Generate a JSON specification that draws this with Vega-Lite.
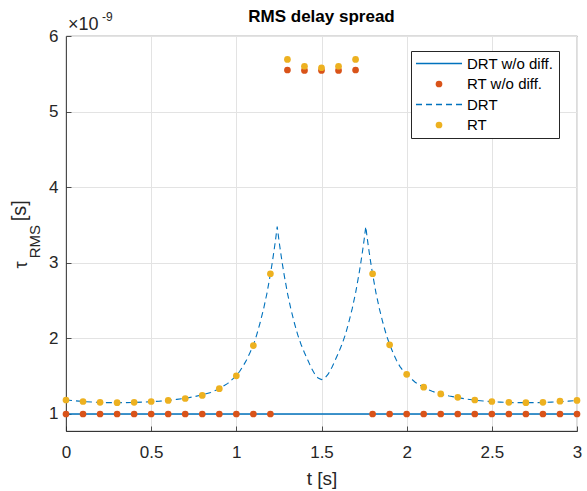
{
  "$schema": "https://vega.github.io/schema/vega-lite/v6.json",
  "width": 511,
  "height": 395,
  "autosize": {"type": "none"},
  "padding": {"left": 66, "top": 36, "right": 10, "bottom": 60},
  "background": "white",
  "title": {"text": "RMS delay spread", "fontSize": 17, "fontWeight": "bold", "font": "Liberation Sans", "color": "black", "offset": -15, "anchor": "middle"},
  "config": {
    "view": {"stroke": "#262626", "strokeWidth": 0.8},
    "axis": {"labelFont": "Liberation Sans", "titleFont": "Liberation Sans", "labelFontSize": 17, "labelColor": "#262626", "titleColor": "#262626", "titleFontWeight": "normal", "titleFontSize": 19, "gridColor": "#e3e3e3", "gridWidth": 1, "domainColor": "#262626", "domainWidth": 0.8, "tickColor": "#262626", "tickSize": -5, "tickWidth": 0.8},
    "legend": {"labelFont": "Liberation Sans"}
  },
  "datasets": {
    "drtw": [
      {"t": 0, "v": 1.0, "series": "DRT w/o diff."},
      {"t": 3, "v": 1.0, "series": "DRT w/o diff."}
    ],
    "rtw": [
      {"t": 0.0, "v": 1.0}, {"t": 0.1, "v": 1.0}, {"t": 0.2, "v": 1.0}, {"t": 0.3, "v": 1.0}, {"t": 0.4, "v": 1.0},
      {"t": 0.5, "v": 1.0}, {"t": 0.6, "v": 1.0}, {"t": 0.7, "v": 1.0}, {"t": 0.8, "v": 1.0}, {"t": 0.9, "v": 1.0},
      {"t": 1.0, "v": 1.0}, {"t": 1.1, "v": 1.0}, {"t": 1.2, "v": 1.0},
      {"t": 1.3, "v": 5.55}, {"t": 1.4, "v": 5.545}, {"t": 1.5, "v": 5.545}, {"t": 1.6, "v": 5.545}, {"t": 1.7, "v": 5.55},
      {"t": 1.8, "v": 1.0}, {"t": 1.9, "v": 1.0}, {"t": 2.0, "v": 1.0}, {"t": 2.1, "v": 1.0}, {"t": 2.2, "v": 1.0},
      {"t": 2.3, "v": 1.0}, {"t": 2.4, "v": 1.0}, {"t": 2.5, "v": 1.0}, {"t": 2.6, "v": 1.0}, {"t": 2.7, "v": 1.0},
      {"t": 2.8, "v": 1.0}, {"t": 2.9, "v": 1.0}, {"t": 3.0, "v": 1.0}
    ],
    "drt": [
      {"t": 0, "v": 1.185}, {"t": 0.05, "v": 1.175}, {"t": 0.1, "v": 1.165}, {"t": 0.15, "v": 1.158}, {"t": 0.2, "v": 1.153},
      {"t": 0.25, "v": 1.15}, {"t": 0.3, "v": 1.15}, {"t": 0.35, "v": 1.15}, {"t": 0.4, "v": 1.152}, {"t": 0.45, "v": 1.157},
      {"t": 0.5, "v": 1.163}, {"t": 0.55, "v": 1.17}, {"t": 0.6, "v": 1.18}, {"t": 0.65, "v": 1.193}, {"t": 0.7, "v": 1.208},
      {"t": 0.75, "v": 1.228}, {"t": 0.8, "v": 1.253}, {"t": 0.85, "v": 1.285}, {"t": 0.9, "v": 1.335}, {"t": 0.95, "v": 1.405},
      {"t": 1.0, "v": 1.505}, {"t": 1.02, "v": 1.565}, {"t": 1.04, "v": 1.635}, {"t": 1.06, "v": 1.715}, {"t": 1.08, "v": 1.81},
      {"t": 1.1, "v": 1.91}, {"t": 1.12, "v": 2.05}, {"t": 1.14, "v": 2.21}, {"t": 1.16, "v": 2.39}, {"t": 1.18, "v": 2.6},
      {"t": 1.2, "v": 2.85}, {"t": 1.21, "v": 2.99}, {"t": 1.22, "v": 3.14}, {"t": 1.23, "v": 3.3}, {"t": 1.24, "v": 3.48},
      {"t": 1.25, "v": 3.3}, {"t": 1.26, "v": 3.14}, {"t": 1.27, "v": 2.99}, {"t": 1.28, "v": 2.85}, {"t": 1.3, "v": 2.6},
      {"t": 1.32, "v": 2.39}, {"t": 1.34, "v": 2.21}, {"t": 1.36, "v": 2.05}, {"t": 1.38, "v": 1.92}, {"t": 1.4, "v": 1.81},
      {"t": 1.42, "v": 1.71}, {"t": 1.44, "v": 1.61}, {"t": 1.46, "v": 1.53}, {"t": 1.48, "v": 1.475}, {"t": 1.5, "v": 1.455},
      {"t": 1.52, "v": 1.475}, {"t": 1.54, "v": 1.53}, {"t": 1.56, "v": 1.61}, {"t": 1.58, "v": 1.71}, {"t": 1.6, "v": 1.81},
      {"t": 1.62, "v": 1.92}, {"t": 1.64, "v": 2.05}, {"t": 1.66, "v": 2.21}, {"t": 1.68, "v": 2.39}, {"t": 1.7, "v": 2.6},
      {"t": 1.72, "v": 2.85}, {"t": 1.73, "v": 2.99}, {"t": 1.74, "v": 3.14}, {"t": 1.75, "v": 3.3}, {"t": 1.76, "v": 3.48},
      {"t": 1.77, "v": 3.3}, {"t": 1.78, "v": 3.14}, {"t": 1.79, "v": 2.99}, {"t": 1.8, "v": 2.85}, {"t": 1.82, "v": 2.6},
      {"t": 1.84, "v": 2.39}, {"t": 1.86, "v": 2.21}, {"t": 1.88, "v": 2.05}, {"t": 1.9, "v": 1.92}, {"t": 1.92, "v": 1.81},
      {"t": 1.94, "v": 1.71}, {"t": 1.96, "v": 1.63}, {"t": 1.98, "v": 1.57}, {"t": 2.0, "v": 1.52}, {"t": 2.05, "v": 1.42},
      {"t": 2.1, "v": 1.35}, {"t": 2.15, "v": 1.3}, {"t": 2.2, "v": 1.262}, {"t": 2.25, "v": 1.237}, {"t": 2.3, "v": 1.217},
      {"t": 2.35, "v": 1.198}, {"t": 2.4, "v": 1.183}, {"t": 2.45, "v": 1.172}, {"t": 2.5, "v": 1.163}, {"t": 2.55, "v": 1.157},
      {"t": 2.6, "v": 1.152}, {"t": 2.65, "v": 1.15}, {"t": 2.7, "v": 1.15}, {"t": 2.75, "v": 1.15}, {"t": 2.8, "v": 1.152},
      {"t": 2.85, "v": 1.157}, {"t": 2.9, "v": 1.163}, {"t": 2.95, "v": 1.17}, {"t": 3.0, "v": 1.178}
    ],
    "rt": [
      {"t": 0.0, "v": 1.185}, {"t": 0.1, "v": 1.165}, {"t": 0.2, "v": 1.155}, {"t": 0.3, "v": 1.15}, {"t": 0.4, "v": 1.155},
      {"t": 0.5, "v": 1.165}, {"t": 0.6, "v": 1.18}, {"t": 0.7, "v": 1.205}, {"t": 0.8, "v": 1.245}, {"t": 0.9, "v": 1.335},
      {"t": 1.0, "v": 1.505}, {"t": 1.1, "v": 1.905}, {"t": 1.2, "v": 2.855},
      {"t": 1.3, "v": 5.69}, {"t": 1.4, "v": 5.6}, {"t": 1.5, "v": 5.58}, {"t": 1.6, "v": 5.6}, {"t": 1.7, "v": 5.69},
      {"t": 1.8, "v": 2.855}, {"t": 1.9, "v": 1.915}, {"t": 2.0, "v": 1.525}, {"t": 2.1, "v": 1.355}, {"t": 2.2, "v": 1.265},
      {"t": 2.3, "v": 1.22}, {"t": 2.4, "v": 1.185}, {"t": 2.5, "v": 1.165}, {"t": 2.6, "v": 1.155}, {"t": 2.7, "v": 1.15},
      {"t": 2.8, "v": 1.155}, {"t": 2.9, "v": 1.17}, {"t": 3.0, "v": 1.18}
    ]
  },
  "layer": [
    {
      "data": {"name": "drtw"},
      "mark": {"type": "line", "strokeWidth": 1.6, "clip": true},
      "encoding": {
        "x": {"field": "t", "type": "quantitative", "scale": {"domain": [0, 3], "nice": false, "zero": false},
          "axis": {"title": "t [s]", "values": [0, 0.5, 1, 1.5, 2, 2.5, 3], "format": "~g", "labelPadding": 18, "titlePadding": 9, "labelFlush": false}},
        "y": {"field": "v", "type": "quantitative", "scale": {"domain": [0.775, 6], "nice": false, "zero": false},
          "axis": {"title": null, "values": [1, 2, 3, 4, 5, 6], "format": "d", "labelPadding": 13, "labelFlush": false}},
        "color": {"field": "series", "type": "nominal",
        "scale": {"domain": ["DRT w/o diff.", "RT w/o diff.", "DRT", "RT"], "range": ["#0072BD", "#D95319", "#0072BD", "#EDB120"]},
        "legend": {"title": null, "orient": "none", "legendX": 345, "legendY": 15, "strokeColor": "#262626", "fillColor": "white", "padding": 5,
          "labelFontSize": 15, "labelColor": "black", "rowPadding": 4.5,
          "encode": {
            "symbols": {"update": {
              "x": {"value": 23},
              "shape": {"signal": "indexof(['DRT w/o diff.','DRT'], datum.value) >= 0 ? 'stroke' : 'circle'"},
              "size": {"signal": "indexof(['DRT w/o diff.','DRT'], datum.value) >= 0 ? 2116 : 45"},
              "strokeDash": {"signal": "datum.value === 'DRT' ? [6,4] : [1,0]"},
              "stroke": {"signal": "scale('color', datum.value)"},
              "fill": {"signal": "indexof(['DRT w/o diff.','DRT'], datum.value) >= 0 ? 'transparent' : scale('color', datum.value)"},
              "strokeWidth": {"signal": "indexof(['DRT w/o diff.','DRT'], datum.value) >= 0 ? 1.5 : 0"},
              "opacity": {"value": 1},
              "fillOpacity": {"value": 1},
              "strokeOpacity": {"value": 1}
            }},
            "labels": {"update": {"x": {"value": 51}}}
          }}}
      }
    },
    {
      "data": {"name": "rtw"},
      "transform": [{"calculate": "'RT w/o diff.'", "as": "series"}],
      "mark": {"type": "circle", "size": 45, "opacity": 1},
      "encoding": {"x": {"field": "t", "type": "quantitative"}, "y": {"field": "v", "type": "quantitative"}, "color": {"field": "series", "type": "nominal"}}
    },
    {
      "data": {"name": "drt"},
      "transform": [{"calculate": "'DRT'", "as": "series"}],
      "mark": {"type": "line", "strokeWidth": 1.1, "strokeDash": [6, 4], "clip": true},
      "encoding": {"x": {"field": "t", "type": "quantitative"}, "y": {"field": "v", "type": "quantitative"}, "color": {"field": "series", "type": "nominal"}}
    },
    {
      "data": {"name": "rt"},
      "transform": [{"calculate": "'RT'", "as": "series"}],
      "mark": {"type": "circle", "size": 45, "opacity": 1},
      "encoding": {"x": {"field": "t", "type": "quantitative"}, "y": {"field": "v", "type": "quantitative"}, "color": {"field": "series", "type": "nominal"}}
    },
    {
      "data": {"values": [{}]},
      "mark": {"type": "text", "text": "τ", "angle": 270, "fontSize": 18, "font": "Liberation Sans", "color": "#262626", "align": "center", "baseline": "middle"},
      "encoding": {"x": {"datum": -0.261, "type": "quantitative"}, "y": {"datum": 2.97, "type": "quantitative"}}
    },
    {
      "data": {"values": [{}]},
      "mark": {"type": "text", "text": "RMS", "angle": 270, "fontSize": 15, "font": "Liberation Sans", "color": "#262626", "align": "center", "baseline": "middle"},
      "encoding": {"x": {"datum": -0.182, "type": "quantitative"}, "y": {"datum": 3.28, "type": "quantitative"}}
    },
    {
      "data": {"values": [{}]},
      "mark": {"type": "text", "text": "[s]", "angle": 270, "fontSize": 20, "font": "Liberation Sans", "color": "#262626", "align": "center", "baseline": "middle"},
      "encoding": {"x": {"datum": -0.27, "type": "quantitative"}, "y": {"datum": 3.69, "type": "quantitative"}}
    },
    {
      "data": {"values": [{}]},
      "mark": {"type": "text", "text": "×10", "fontSize": 18, "font": "Liberation Sans", "color": "#262626", "align": "left", "baseline": "middle"},
      "encoding": {"x": {"datum": 0.012, "type": "quantitative"}, "y": {"datum": 6.139, "type": "quantitative"}}
    },
    {
      "data": {"values": [{}]},
      "mark": {"type": "text", "text": "-9", "fontSize": 12, "font": "Liberation Sans", "color": "#262626", "align": "left", "baseline": "middle"},
      "encoding": {"x": {"datum": 0.211, "type": "quantitative"}, "y": {"datum": 6.251, "type": "quantitative"}}
    }
  ]
}
